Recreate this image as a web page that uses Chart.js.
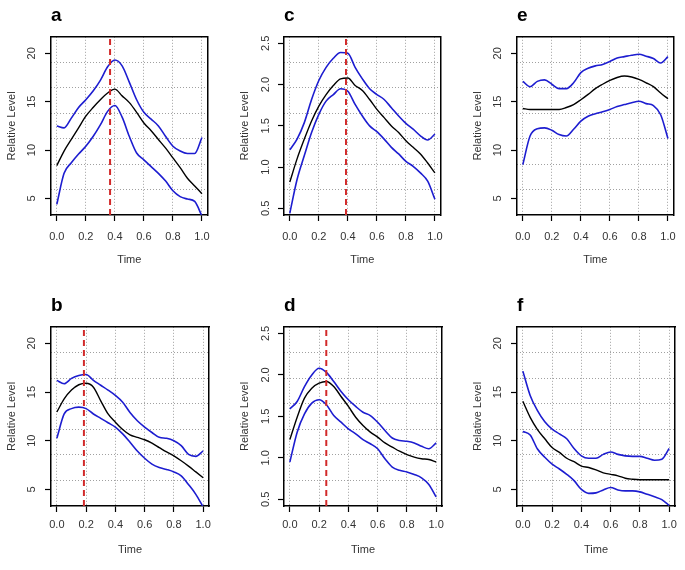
<!DOCTYPE html>
<html>
<head>
<meta charset="utf-8">
<script src="https://cdn.jsdelivr.net/npm/chart.js@4/dist/chart.umd.min.js"></script>
<style>
body{margin:0;background:#fff;}
#wrap{position:relative;width:685px;height:570px;background:#fff;}
canvas{position:absolute;}
</style>
</head>
<body>
<div id="wrap">
<canvas id="pa" width="219" height="285" style="left:0px;top:0px"></canvas>
<canvas id="pc" width="219" height="285" style="left:233px;top:0px"></canvas>
<canvas id="pe" width="219" height="285" style="left:466px;top:0px"></canvas>
<canvas id="pb" width="219" height="280" style="left:0px;top:290px"></canvas>
<canvas id="pd" width="219" height="280" style="left:233px;top:290px"></canvas>
<canvas id="pf" width="219" height="280" style="left:466px;top:290px"></canvas>
</div>
<script>
var time=[0,0.05,0.1,0.15,0.2,0.25,0.3,0.35,0.4,0.45,0.5,0.55,0.6,0.65,0.7,0.75,0.8,0.85,0.9,0.95,1];
var timeTicks=[0,0.2,0.4,0.6,0.8,1];
var timeTickLabels=['0.0','0.2','0.4','0.6','0.8','1.0'];
var timeRange=[-0.04,1.04];

var levelTicks=[5,10,15,20];
var levelTickLabels=['5','10','15','20'];
var levelRange=[3.3,21.7];
var ratioTicks=[0.5,1,1.5,2,2.5];
var ratioTickLabels=['0.5','1.0','1.5','2.0','2.5'];
var ratioRange=[0.42,2.58];

// panel a
var aUpper=[12.5,12.3,13.3,14.4,15.2,16.1,17.2,18.6,19.3,18.7,17.0,15.2,13.9,13.2,12.5,11.4,10.4,9.9,9.65,9.65,11.3];
var aMid=[8.4,9.9,11.1,12.3,13.5,14.4,15.2,15.9,16.3,15.6,14.9,13.9,12.8,12.0,11.1,10.2,9.2,8.2,7.1,6.3,5.5];
var aLower=[4.4,7.6,8.7,9.6,10.4,11.4,12.6,14.0,14.6,13.4,11.4,9.7,9.0,8.3,7.6,6.8,5.8,5.2,4.95,4.7,3.2];
var aPeak=0.367;
// panel b
var bUpper=[16.2,15.85,16.4,16.7,16.8,16.2,15.7,15.2,14.65,13.95,12.9,12.05,11.4,10.85,10.35,10.25,10.0,9.5,8.6,8.4,8.95];
var bMid=[12.95,14.3,15.2,15.75,15.9,15.5,14.1,12.75,11.9,11.15,10.6,10.35,10.1,9.75,9.3,8.85,8.45,7.95,7.4,6.8,6.2];
var bLower=[10.25,12.75,13.3,13.45,13.3,12.75,12.3,11.85,11.4,10.7,9.85,8.95,8.2,7.6,7.25,7.05,6.8,6.4,5.5,4.5,3.2];
var bPeak=0.185;
// panel c
var cUpper=[1.21,1.34,1.54,1.82,2.05,2.21,2.32,2.39,2.38,2.21,2.07,1.95,1.88,1.82,1.72,1.62,1.53,1.46,1.38,1.33,1.40];
var cMid=[0.82,1.10,1.34,1.56,1.74,1.88,1.99,2.07,2.08,1.99,1.93,1.82,1.70,1.60,1.50,1.42,1.32,1.24,1.16,1.05,0.93];
var cLower=[0.44,0.85,1.14,1.42,1.64,1.80,1.88,1.95,1.92,1.76,1.62,1.50,1.43,1.34,1.24,1.16,1.07,1.01,0.93,0.83,0.61];
var cPeak=0.387;
// panel d
var dUpper=[1.59,1.68,1.86,2.0,2.08,2.03,1.92,1.80,1.70,1.62,1.55,1.51,1.43,1.33,1.24,1.21,1.20,1.18,1.14,1.11,1.18];
var dMid=[1.22,1.49,1.72,1.84,1.90,1.92,1.86,1.74,1.62,1.49,1.39,1.31,1.25,1.18,1.13,1.08,1.04,1.01,0.99,0.98,0.95];
var dLower=[0.95,1.31,1.53,1.66,1.70,1.64,1.51,1.43,1.35,1.29,1.22,1.17,1.11,0.99,0.89,0.85,0.83,0.80,0.76,0.68,0.53];
var dPeak=0.249;
// panel e
var eUpper=[17.1,16.55,17.1,17.25,16.8,16.35,16.35,16.95,18.0,18.45,18.7,18.85,19.15,19.5,19.65,19.8,19.9,19.7,19.45,19.0,19.65];
var eMid=[14.3,14.2,14.2,14.2,14.2,14.2,14.4,14.7,15.2,15.75,16.35,16.8,17.2,17.5,17.65,17.55,17.3,16.95,16.55,15.9,15.3];
var eLower=[8.5,11.45,12.2,12.3,12.05,11.6,11.45,12.15,13.0,13.5,13.75,13.95,14.2,14.5,14.7,14.9,15.05,14.8,14.6,13.65,11.2];
// panel f
var fUpper=[17.15,14.65,13.1,11.95,11.2,10.7,10.2,9.2,8.45,8.2,8.2,8.6,8.85,8.6,8.45,8.4,8.4,8.2,8.0,8.1,9.2];
var fMid=[14.05,12.4,11.15,10.2,9.3,8.8,8.2,7.85,7.4,7.25,7.0,6.7,6.55,6.4,6.15,6.05,6.0,6.0,6.0,6.0,6.0];
var fLower=[10.95,10.6,9.15,8.3,7.6,7.1,6.55,5.9,5.0,4.6,4.65,4.95,5.2,4.95,4.85,4.85,4.75,4.5,4.25,3.95,3.35];

Chart.defaults.font.family="'Liberation Sans', Arial, sans-serif";
Chart.defaults.animation=false;

var topRow={axisH:70,tickPad:9,titlePad:18};
var bottomRow={axisH:64,tickPad:6,titlePad:13};

function pts(ys){
	var out=[];
	for(var i in time){
		out.push({x:time[i],y:ys[i]});
	}
	return out;
}

function curve(ys,color,width){
	return {data:pts(ys),borderColor:color,borderWidth:width,pointRadius:0,cubicInterpolationMode:'monotone',xAxisID:'x',yAxisID:'y'};
}

function makePanel(id,letter,upper,mid,lower,peak,yRange,yTicks,yTickLabels,yPad,row){
	var datasets=[];
	if(peak!==null){
		datasets.push({data:[{x:peak,y:yRange[0]},{x:peak,y:yRange[1]}],borderColor:'#d22a2a',borderWidth:2,borderDash:[6,4],pointRadius:0,xAxisID:'x',yAxisID:'y'});
	}
	datasets.push(curve(upper,'#1d1dd0',1.6));
	datasets.push(curve(mid,'#000000',1.4));
	datasets.push(curve(lower,'#1d1dd0',1.6));

	new Chart(document.getElementById(id),{
		type:'line',
		data:{datasets:datasets},
		options:{
			responsive:false,
			layout:{padding:{left:0,right:10,top:0,bottom:0}},
			plugins:{
				legend:{display:false},
				tooltip:{enabled:false},
				title:{display:true,text:letter,align:'start',fullSize:false,color:'#000',font:{size:19,weight:'bold'},padding:{top:4,bottom:10}}
			},
			scales:{
				x:{type:'linear',position:'bottom',min:timeRange[0],max:timeRange[1],
					afterBuildTicks:function(s){s.ticks=timeTicks.map(function(v){return {value:v};});},
					afterFit:function(s){s.height=row.axisH;},
					ticks:{callback:function(v,i){return timeTickLabels[i];},padding:row.tickPad,color:'#333',font:{size:11},maxRotation:0,autoSkip:false},
					grid:{color:'#a0a0a0',lineWidth:1,tickColor:'#000',tickLength:6,tickWidth:1.2,tickBorderDash:[]},
					border:{display:true,color:'#000',width:1.5,dash:[1,2]},
					title:{display:true,text:'Time',color:'#333',font:{size:11},padding:{top:0,bottom:row.titlePad}}
				},
				xt:{type:'linear',position:'top',min:timeRange[0],max:timeRange[1],
					ticks:{display:false},grid:{display:false,drawTicks:false},
					border:{display:true,color:'#000',width:1.5}
				},
				y:{type:'linear',position:'left',min:yRange[0],max:yRange[1],
					afterBuildTicks:function(s){s.ticks=yTicks.map(function(v){return {value:v};});},
					afterFit:function(s){s.width=51;},
					ticks:{callback:function(v,i){return yTickLabels[i];},minRotation:90,maxRotation:90,crossAlign:'center',padding:yPad,color:'#333',font:{size:11}},
					grid:{drawOnChartArea:false,tickColor:'#000',tickLength:6,tickWidth:1.2},
					border:{display:true,color:'#000',width:1.5},
					title:{display:true,text:'Relative Level',color:'#333',font:{size:11},padding:{top:5,bottom:0}}
				},
				yg:{type:'linear',position:'left',min:yRange[0],max:yRange[1],
					afterBuildTicks:function(s){
						var t=[];
						for(var k=1;k<7;k++){t.push({value:yRange[0]+k*(yRange[1]-yRange[0])/7});}
						s.ticks=t;
					},
					ticks:{display:false},
					grid:{color:'#a0a0a0',lineWidth:1,drawTicks:false},
					border:{display:false,dash:[1,2]}
				},
				yr:{type:'linear',position:'right',min:yRange[0],max:yRange[1],
					ticks:{display:false},grid:{display:false,drawTicks:false},
					border:{display:true,color:'#000',width:1.5}
				}
			}
		}
	});
}

makePanel('pa','a',aUpper,aMid,aLower,aPeak,levelRange,levelTicks,levelTickLabels,7,topRow);
makePanel('pc','c',cUpper,cMid,cLower,cPeak,ratioRange,ratioTicks,ratioTickLabels,4,topRow);
makePanel('pe','e',eUpper,eMid,eLower,null,levelRange,levelTicks,levelTickLabels,7,topRow);
makePanel('pb','b',bUpper,bMid,bLower,bPeak,levelRange,levelTicks,levelTickLabels,7,bottomRow);
makePanel('pd','d',dUpper,dMid,dLower,dPeak,ratioRange,ratioTicks,ratioTickLabels,4,bottomRow);
makePanel('pf','f',fUpper,fMid,fLower,null,levelRange,levelTicks,levelTickLabels,7,bottomRow);
</script>
</body>
</html>
